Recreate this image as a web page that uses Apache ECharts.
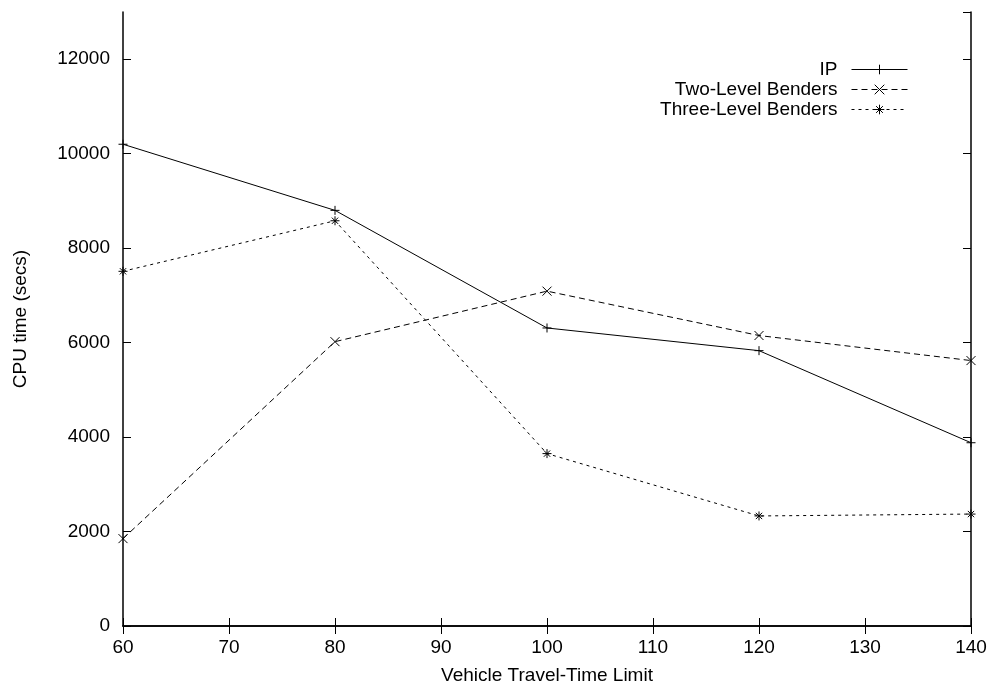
<!DOCTYPE html>
<html>
<head>
<meta charset="utf-8">
<script src="https://cdn.jsdelivr.net/npm/echarts@6/dist/echarts.min.js"></script>
<style>
html,body{margin:0;padding:0;background:#fff;}
#main{width:993px;height:690px;}
</style>
</head>
<body>
<div id="main"></div>
<script>
// 数据
var limits = [60, 80, 100, 120, 140];
var ipTime = [10200, 8800, 6310, 5830, 3880];
var twoLevel = [1850, 6020, 7090, 6150, 5620];
var threeLevel = [7510, 8580, 3650, 2330, 2370];
var seriesNames = ['IP', 'Two-Level Benders', 'Three-Level Benders'];

var plusPath = 'path://M0,5L10,5M5,0L5,10';
var crossPath = 'path://M0,0L10,10M10,0L0,10';
var starPath = 'path://M0,5L10,5M5,0L5,10M1.5,1.5L8.5,8.5M8.5,1.5L1.5,8.5';

var font = 'Liberation Sans, Arial, sans-serif';
var fs = 19;

function pairs(vals) {
    return limits.map(function (x, i) { return [x, vals[i]]; });
}

function mkSeries(name, vals, symbol, dash) {
    return {
        name: name,
        type: 'line',
        data: pairs(vals),
        symbol: symbol,
        symbolSize: 9,
        clip: false,
        lineStyle: { color: '#000', width: 1, type: dash },
        itemStyle: { color: '#000', borderColor: '#000', borderWidth: 1 },
        emphasis: { disabled: true },
        animation: false
    };
}

var axisBase = {
    axisLine: { show: true, lineStyle: { color: '#000', width: 1.5 } },
    axisTick: { inside: true, length: 8, lineStyle: { color: '#000' } },
    splitLine: { show: false }
};

var chart = echarts.init(document.getElementById('main'));
var option = {
    backgroundColor: '#fff',
    animation: false,
    grid: { left: 123, right: 22, top: 12, bottom: 59 },
    legend: {
        right: 80,
        top: 55,
        orient: 'vertical',
        align: 'right',
        itemWidth: 56,
        itemHeight: 12,
        itemGap: 1,
        selectedMode: false,
        lineStyle: { width: 1 },
        itemStyle: { borderWidth: 1 },
        textStyle: { fontFamily: font, fontSize: fs, color: '#000', padding: [0, 9, 0, 0] },
        data: seriesNames
    },
    xAxis: [
        Object.assign({}, axisBase, {
            type: 'value', min: 60, max: 140, interval: 10, position: 'bottom',
            name: 'Vehicle Travel-Time Limit', nameLocation: 'middle', nameGap: 40,
            nameTextStyle: { fontFamily: font, fontSize: fs, color: '#000' },
            axisLabel: { margin: 12, fontFamily: font, fontSize: fs, color: '#000' }
        }),
        Object.assign({}, axisBase, {
            type: 'value', min: 60, max: 140, interval: 10, position: 'top',
            axisLabel: { show: false }
        })
    ],
    yAxis: [
        Object.assign({}, axisBase, {
            type: 'value', min: 0, max: 13000, interval: 2000, position: 'left',
            name: 'CPU time (secs)', nameLocation: 'middle', nameGap: 93,
            nameTextStyle: { fontFamily: font, fontSize: fs, color: '#000' },
            axisLabel: {
                margin: 13, showMaxLabel: false, fontFamily: font, fontSize: fs, color: '#000',
                formatter: function (v) { return String(v); }
            }
        }),
        Object.assign({}, axisBase, {
            type: 'value', min: 0, max: 13000, interval: 2000, position: 'right',
            axisLabel: { show: false }
        })
    ],
    series: [
        mkSeries(seriesNames[0], ipTime, plusPath, 'solid'),
        mkSeries(seriesNames[1], twoLevel, crossPath, [6, 4]),
        mkSeries(seriesNames[2], threeLevel, starPath, [3, 4])
    ]
};
chart.setOption(option);
</script>
</body>
</html>
